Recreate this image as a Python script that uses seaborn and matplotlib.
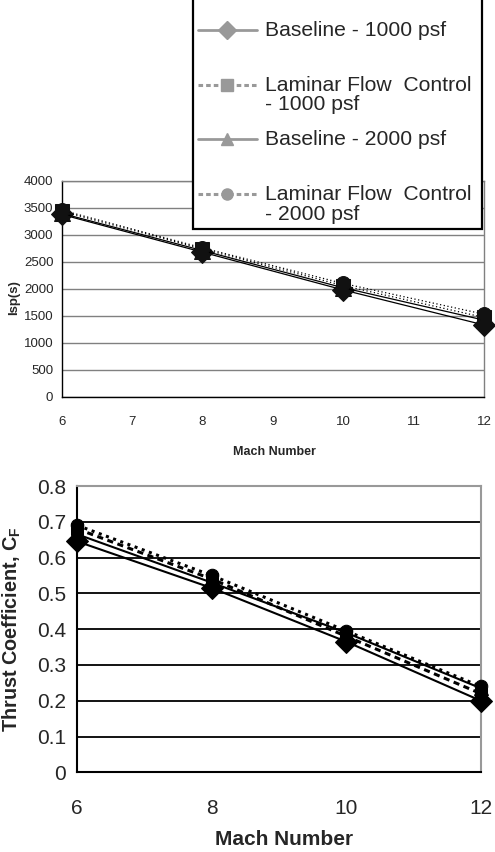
import matplotlib
matplotlib.use("Agg")
import matplotlib.pyplot as plt
import seaborn as sns
from matplotlib.lines import Line2D
from matplotlib.font_manager import FontProperties

# ---------------- data ----------------
MACH = [6, 8, 10, 12]

ISP_BASE_1000 = [3380, 2680, 1980, 1330]
ISP_LFC_1000 = [3440, 2740, 2060, 1470]
ISP_BASE_2000 = [3400, 2710, 2020, 1420]
ISP_LFC_2000 = [3460, 2760, 2100, 1530]

CF_BASE_1000 = [0.645, 0.515, 0.365, 0.200]
CF_LFC_1000 = [0.680, 0.540, 0.380, 0.220]
CF_BASE_2000 = [0.665, 0.530, 0.390, 0.235]
CF_LFC_2000 = [0.690, 0.550, 0.395, 0.240]

LEGEND_LABELS = [" \nBaseline - 1000 psf\n ",
                 "Laminar Flow  Control \n- 1000 psf",
                 "Baseline - 2000 psf\n ",
                 "Laminar Flow  Control \n- 2000 psf"]

ISP_TICKS = [0, 500, 1000, 1500, 2000, 2500, 3000, 3500, 4000]
MACH_TICKS_TOP = [6, 7, 8, 9, 10, 11, 12]
MACH_TICKS_BOTTOM = [6, 8, 10, 12]
CF_TICKS = [0, 0.1, 0.2, 0.3, 0.4, 0.5, 0.6, 0.7, 0.8]
CF_TICK_LABELS = ["0", "0.1", "0.2", "0.3", "0.4", "0.5", "0.6", "0.7", "0.8"]

TOP_XLABEL = "Mach Number"
TOP_YLABEL = "Isp(s)"
BOT_XLABEL = "Mach Number"
BOT_YLABEL = r"Thrust Coefficient, C$_\mathbf{F}$"

# ---------------- style ----------------
sns.set_style("white")
plt.rcParams["font.family"] = ["Liberation Sans", "DejaVu Sans"]
plt.rcParams["mathtext.fontset"] = "custom"
plt.rcParams["mathtext.bf"] = "Liberation Sans:bold"
plt.rcParams["mathtext.rm"] = "Liberation Sans"

NARROW = ["Liberation Sans Narrow", "Liberation Sans", "DejaVu Sans"]

W, H = 495, 852
fig = plt.figure(figsize=(W / 100, H / 100), dpi=100)

# ---------------- top chart ----------------
ax1 = fig.add_axes([61.7 / W, 1 - 396.7 / H, (484 - 61.7) / W, (396.7 - 181) / H])

top_series = [
    (ISP_BASE_1000, "D", "-", 11),
    (ISP_LFC_1000, "s", (0, (1, 2)), 10),
    (ISP_BASE_2000, "^", "-", 11),
    (ISP_LFC_2000, "o", (0, (1, 2)), 10),
]
for vals, mk, ls, ms in top_series:
    sns.lineplot(x=MACH, y=vals, ax=ax1, color="black", marker=mk, markersize=ms,
                 markeredgecolor="#111111", markerfacecolor="#111111",
                 linestyle=ls, linewidth=0.9, zorder=3, clip_on=False)

ax1.set_xlim(6, 12)
ax1.set_ylim(0, 4000)
ax1.set_xticks(MACH_TICKS_TOP)
ax1.set_yticks(ISP_TICKS)
ax1.set_xticklabels([str(v) for v in MACH_TICKS_TOP], family=NARROW, fontsize=9.5)
ax1.set_yticklabels([str(v) for v in ISP_TICKS], family=NARROW, fontsize=9.5)
ax1.yaxis.grid(True, color="#808080", linewidth=1)
ax1.xaxis.grid(False)
ax1.tick_params(axis="both", direction="out", length=4, width=1, color="black")
ax1.tick_params(axis="x", pad=10)
ax1.tick_params(axis="y", pad=2)
for s in ["left", "bottom"]:
    ax1.spines[s].set_color("black")
    ax1.spines[s].set_linewidth(1)
for s in ["right", "top"]:
    ax1.spines[s].set_color("#808080")
    ax1.spines[s].set_linewidth(1)
ax1.set_xlabel(TOP_XLABEL, family=NARROW, fontsize=9, fontweight="bold")
ax1.set_ylabel(TOP_YLABEL, family=NARROW, fontsize=9.5, fontweight="bold")
ax1.xaxis.set_label_coords(0.503, -0.229)
ax1.yaxis.set_label_coords(-0.098, 0.458)

# legend
GRAY = "#999999"
handles = [
    Line2D([], [], color=GRAY, lw=2, ls="-", marker="D", ms=9, mfc=GRAY, mec=GRAY),
    Line2D([], [], color=GRAY, lw=2.2, ls=(0, (1.5, 1)), marker="s", ms=8, mfc=GRAY, mec=GRAY),
    Line2D([], [], color=GRAY, lw=2, ls="-", marker="^", ms=9, mfc=GRAY, mec=GRAY),
    Line2D([], [], color=GRAY, lw=2.2, ls=(0, (1.5, 1)), marker="o", ms=8, mfc=GRAY, mec=GRAY),
]
leg = ax1.legend(handles, LEGEND_LABELS, loc="lower right",
                 bbox_to_anchor=(482 / W, 1 - 229 / H), bbox_transform=fig.transFigure,
                 borderaxespad=0, frameon=True, fancybox=False, shadow=False,
                 edgecolor="black", framealpha=1, facecolor="white",
                 prop=FontProperties(family="Liberation Sans", size=15.2),
                 handlelength=2.8, handletextpad=0.37, borderpad=0.24,
                 labelspacing=0.76)
leg.get_frame().set_linewidth(1.6)
for t in leg.get_texts():
    t.set_linespacing(1.05)
shifts = [0, 7.5, 7.5, 7.5]
for h, sh in zip(leg.legend_handles, shifts):
    h.set_ydata([y + sh for y in h.get_ydata()])

# ---------------- bottom chart ----------------
ax2 = fig.add_axes([77.3 / W, 1 - 772.3 / H, (480.7 - 77.3) / W, (772.3 - 486) / H])

bot_series = [
    (CF_BASE_1000, "D", "-", 11, 1.5),
    (CF_LFC_1000, "s", (0, (2, 1.5)), 9, 2.2),
    (CF_BASE_2000, "^", "-", 10, 1.5),
    (CF_LFC_2000, "o", (0, (1, 1.5)), 9, 2.2),
]
for vals, mk, ls, ms, lw in bot_series:
    sns.lineplot(x=MACH, y=vals, ax=ax2, color="black", marker=mk, markersize=ms,
                 markeredgecolor="black", markerfacecolor="black",
                 linestyle=ls, linewidth=lw, zorder=3, clip_on=False)

ax2.set_xlim(6, 12)
ax2.set_ylim(0, 0.8)
ax2.set_xticks(MACH_TICKS_BOTTOM)
ax2.set_xticklabels([str(v) for v in MACH_TICKS_BOTTOM], fontsize=15)
ax2.set_yticks(CF_TICKS)
ax2.set_yticklabels(CF_TICK_LABELS, fontsize=15)
ax2.yaxis.grid(True, color="black", linewidth=1.3)
ax2.xaxis.grid(False)
ax2.tick_params(axis="both", direction="out", length=6, width=1.3, color="black")
ax2.tick_params(axis="x", pad=13)
ax2.tick_params(axis="y", pad=2)
for s in ["left", "bottom"]:
    ax2.spines[s].set_color("black")
    ax2.spines[s].set_linewidth(1.5)
for s in ["right", "top"]:
    ax2.spines[s].set_color("#999999")
    ax2.spines[s].set_linewidth(1.5)
ax2.set_xlabel(BOT_XLABEL, fontsize=15, fontweight="bold")
ax2.set_ylabel(BOT_YLABEL, fontsize=14.3, fontweight="bold")
ax2.xaxis.set_label_coords(0.512, -0.2015)
ax2.yaxis.set_label_coords(-0.134, 0.5)

fig.savefig("out.png", dpi=100, facecolor="white")
